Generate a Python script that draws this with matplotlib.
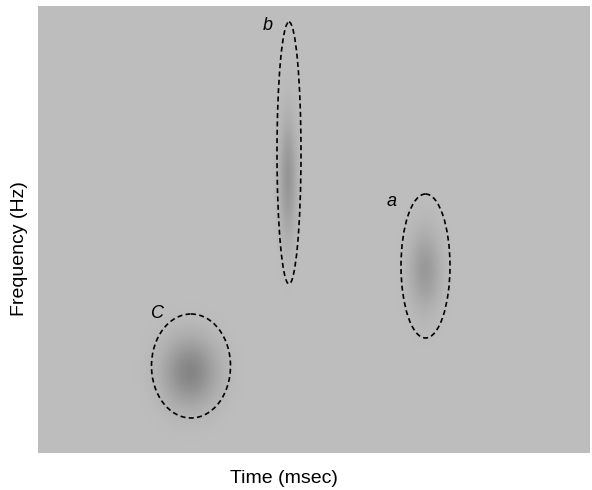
import numpy as np
import matplotlib
matplotlib.use("Agg")
import matplotlib.pyplot as plt
from matplotlib.patches import Ellipse

plt.rcParams['font.family'] = ['Liberation Sans', 'DejaVu Sans']

# Data (coordinates: x = time units, y = frequency units, y grows downward)
x_min, x_max = 38, 590
y_top, y_bottom = 6, 453
background_level = 189
blob_labels = ["a", "b", "C"]
blob_cx = [425, 288, 190]
blob_cy = [270, 178, 372]
blob_sx = [11, 6, 19]
blob_sy = [28, 42, 24]
blob_depth = [36, 40, 56]

ell_cx = [425.5, 289, 191]
ell_cy = [266, 153, 366]
ell_w = [49, 24, 79]
ell_h = [144, 262, 104]

label_x = [392, 268, 157]
label_y = [201, 25, 314]

xs = np.arange(x_min, x_max) + 0.5
ys = np.arange(y_top, y_bottom) + 0.5
xx, yy = np.meshgrid(xs, ys)
img = np.full(xx.shape, float(background_level))
for cx, cy, sx, sy, d in zip(blob_cx, blob_cy, blob_sx, blob_sy, blob_depth):
    img -= d * np.exp(-((xx - cx) ** 2 / (2 * sx ** 2) + (yy - cy) ** 2 / (2 * sy ** 2)))

fig = plt.figure(figsize=(5.92, 4.90), dpi=100)
ax = fig.add_axes([x_min / 592, 1 - y_bottom / 490, (x_max - x_min) / 592, (y_bottom - y_top) / 490])
ax.imshow(img, cmap="gray", vmin=0, vmax=255, extent=[x_min, x_max, y_bottom, y_top],
          aspect="auto", interpolation="bilinear")
for cx, cy, w, h in zip(ell_cx, ell_cy, ell_w, ell_h):
    ax.add_patch(Ellipse((cx, cy), w, h, fill=False, edgecolor="black",
                         linewidth=1.2, linestyle=(0, (3, 2))))
for lab, lx, ly in zip(blob_labels, label_x, label_y):
    ax.text(lx, ly, lab, fontsize=13, fontstyle="italic",
            ha="center", va="center", color="black")
ax.set_xlim(x_min, x_max)
ax.set_ylim(y_bottom, y_top)
ax.set_xticks([])
ax.set_yticks([])
for s in ax.spines.values():
    s.set_visible(False)
fig.text(284 / 592, 1 - 478 / 490, "Time (msec)", ha="center", va="center", fontsize=14)
fig.text(20 / 592, 1 - 249 / 490, "Frequency (Hz)", ha="center", va="center",
         fontsize=14, rotation=90)
fig.savefig("out.png", dpi=100)
